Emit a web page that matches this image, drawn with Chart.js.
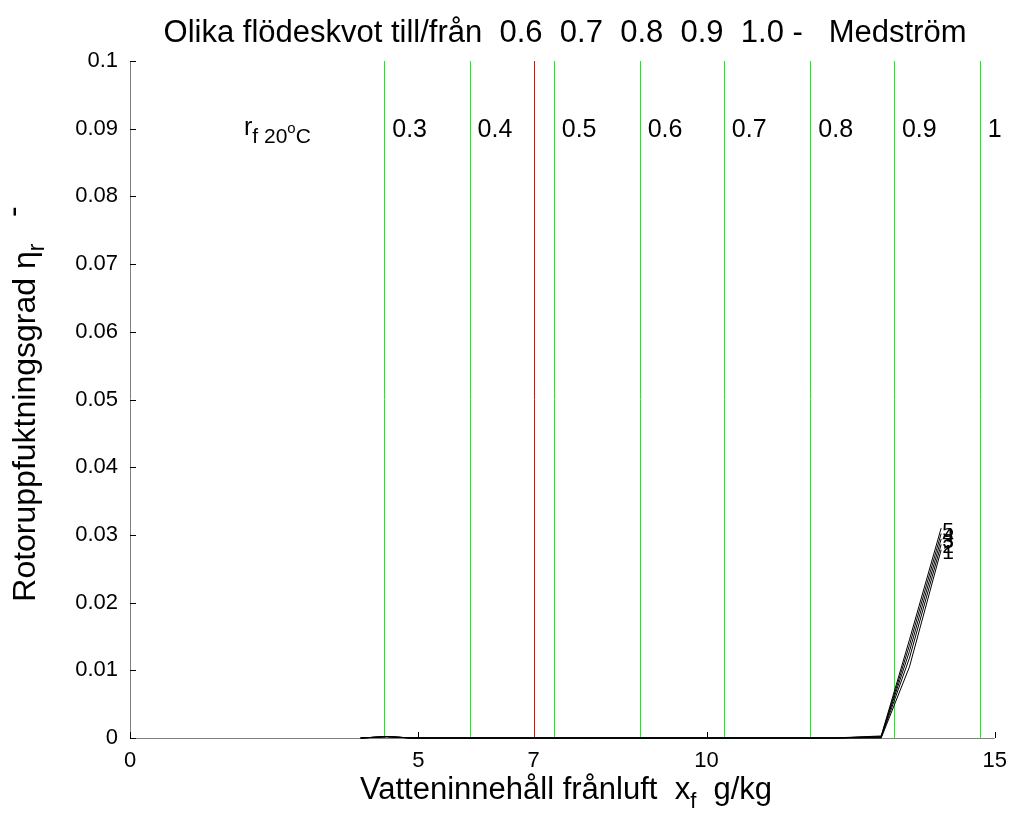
<!DOCTYPE html>
<html>
<head>
<meta charset="utf-8">
<script src="https://cdn.jsdelivr.net/npm/chart.js@4.4.1/dist/chart.umd.min.js"></script>
<style>
html,body{margin:0;padding:0;background:#fff;}
#wrap{width:1017px;height:825px;position:relative;}
</style>
</head>
<body>
<div id="wrap"><canvas id="c" width="1017" height="825"></canvas></div>
<script>
// ---- data ----
const xVals = [4.0, 4.45, 4.9, 6.0, 8.0, 10.0, 12.2, 13.03, 13.52, 14.07];
const curve1 = [0, 0.0002, 0, 0, 0, 0, 0, 0,      0.0105, 0.0278];
const curve2 = [0, 0.0002, 0, 0, 0, 0, 0, 0.0001, 0.0118, 0.0286];
const curve3 = [0, 0.0002, 0, 0, 0, 0, 0, 0.0002, 0.0128, 0.0294];
const curve4 = [0, 0.0002, 0, 0, 0, 0, 0, 0.0002, 0.0137, 0.0302];
const curve5 = [0, 0.0002, 0, 0, 0, 0, 0, 0.0003, 0.0145, 0.0310];
const curveNames = ['1', '2', '3', '4', '5'];
const greenX = [4.41, 5.89, 7.35, 8.84, 10.30, 11.80, 13.25, 14.74];
const flowLabels = ['0.3', '0.4', '0.5', '0.6', '0.7', '0.8', '0.9', '1'];
const redX = [7.0];
const xTicks = [0, 5, 7, 10, 15];
const yTicks = [0, 0.01, 0.02, 0.03, 0.04, 0.05, 0.06, 0.07, 0.08, 0.09, 0.1];
const labelLevel = 0.09;

const FONT = '"Liberation Sans", Arial, Helvetica, sans-serif';
const curves = [curve1, curve2, curve3, curve4, curve5];

const datasets = [];
curves.forEach((c, i) => {
  datasets.push({
    label: 'curve ' + curveNames[i],
    data: xVals.map((x, j) => ({x: x, y: c[j]})),
    borderColor: '#000', borderWidth: 1, pointRadius: 0, showLine: true,
    tension: 0, clip: 6, order: 1
  });
});
greenX.forEach(x => {
  datasets.push({
    data: [{x: x, y: 0}, {x: x, y: 0.1}], vline: true,
    borderColor: '#00ff00', borderWidth: 1, pointRadius: 0, showLine: true, order: 2
  });
});
redX.forEach(x => {
  datasets.push({
    data: [{x: x, y: 0}, {x: x, y: 0.1}], vline: true,
    borderColor: '#ff0000', borderWidth: 1, pointRadius: 0, showLine: true, order: 2
  });
});

function drawRuns(ctx, x, y, runs, align) {
  let total = 0;
  runs.forEach(r => { ctx.font = r.size + 'px ' + FONT; r.w = ctx.measureText(r.t).width; total += r.w; });
  let cx = align === 'center' ? x - total / 2 : x;
  runs.forEach(r => {
    ctx.font = r.size + 'px ' + FONT;
    ctx.fillText(r.t, cx, y + (r.dy || 0));
    cx += r.w;
  });
}

const deco = {
  id: 'deco',
  afterDatasetsUpdate(chart) {
    // pixel-snap the vertical reference lines (even device columns) so they render crisp
    chart.data.datasets.forEach((ds, i) => {
      if (!ds.vline) return;
      chart.getDatasetMeta(i).data.forEach(p => {
        p.x = Math.round((p.x - 0.5) / 2) * 2 + 0.5;
      });
    });
  },
  beforeDatasetsDraw(chart) {
    const {ctx, chartArea: a, scales: {x, y}} = chart;
    ctx.save();
    ctx.strokeStyle = '#808080';
    ctx.lineWidth = 1;
    ctx.beginPath();
    ctx.moveTo(a.left + 0.5, a.top); ctx.lineTo(a.left + 0.5, a.bottom + 0.5);
    ctx.lineTo(a.right, a.bottom + 0.5);
    ctx.stroke();
    ctx.strokeStyle = '#000';
    ctx.beginPath();
    yTicks.forEach(v => {
      const py = Math.round(y.getPixelForValue(v)) + 0.5;
      ctx.moveTo(a.left, py); ctx.lineTo(a.left + 6, py);
    });
    [0, 5, 10, 15].forEach(v => {
      const px = Math.round(x.getPixelForValue(v)) + 0.5;
      ctx.moveTo(px, a.bottom); ctx.lineTo(px, a.bottom - 6);
    });
    ctx.stroke();
    ctx.restore();
  },
  afterDatasetsDraw(chart) {
    const {ctx, chartArea: a, scales: {x, y}} = chart;
    ctx.save();
    ctx.fillStyle = '#000';
    ctx.textBaseline = 'alphabetic';
    ctx.textAlign = 'left';
    // flow ratio labels
    const ly = y.getPixelForValue(labelLevel) + 8;
    ctx.font = '25px ' + FONT;
    greenX.forEach((gx, i) => {
      ctx.fillText(flowLabels[i], x.getPixelForValue(gx) + 8, ly);
    });
    // r_f 20°C
    drawRuns(ctx, 244, ly - 2, [
      {t: 'r', size: 25, dy: 0},
      {t: 'f 20', size: 21, dy: 8},
      {t: 'o', size: 15, dy: -2},
      {t: 'C', size: 21, dy: 8}
    ], 'left');
    // curve labels
    ctx.font = '21px ' + FONT;
    ctx.textBaseline = 'middle';
    curves.forEach((c, i) => {
      const n = c.length - 1;
      ctx.fillText(curveNames[i], x.getPixelForValue(xVals[n]) + 1, y.getPixelForValue(c[n]) + 3);
    });
    // title
    ctx.textBaseline = 'alphabetic';
    ctx.textAlign = 'left';
    drawRuns(ctx, 565, 42, [{t: 'Olika flödeskvot till/från  0.6  0.7  0.8  0.9  1.0 -   Medström', size: 31}], 'center');
    // x title
    drawRuns(ctx, 566, 799, [
      {t: 'Vatteninnehåll frånluft  x', size: 31},
      {t: 'f', size: 22, dy: 9},
      {t: '  g/kg', size: 31}
    ], 'center');
    // y title
    ctx.translate(35, 404);
    ctx.rotate(-Math.PI / 2);
    drawRuns(ctx, 0, 0, [
      {t: 'Rotoruppfuktningsgrad η', size: 32},
      {t: 'r', size: 23, dy: 9},
      {t: '   -', size: 32, dy: -12}
    ], 'center');
    ctx.restore();
  }
};

new Chart(document.getElementById('c'), {
  type: 'scatter',
  data: {datasets: datasets},
  options: {
    responsive: false,
    animation: false,
    events: [],
    layout: {padding: {left: 0, right: 22, top: 61, bottom: 0}},
    plugins: {legend: {display: false}, tooltip: {enabled: false}, title: {display: false}},
    scales: {
      x: {
        type: 'linear', min: 0, max: 15,
        grid: {display: false, drawTicks: false}, border: {display: false},
        afterBuildTicks: s => { s.ticks = xTicks.map(v => ({value: v})); },
        afterFit: s => { s.height = 87; },
        ticks: {color: '#000', font: {family: FONT, size: 22}, padding: 10, maxRotation: 0, autoSkip: false,
                callback: v => String(v)}
      },
      y: {
        type: 'linear', min: 0, max: 0.1,
        grid: {display: false, drawTicks: false}, border: {display: false},
        afterBuildTicks: s => { s.ticks = yTicks.map(v => ({value: v})); },
        afterFit: s => { s.width = 130; },
        ticks: {color: '#000', font: {family: FONT, size: 22}, padding: 12, autoSkip: false,
                callback: v => String(+Number(v).toFixed(4))}
      }
    }
  },
  plugins: [deco]
});
</script>
</body>
</html>
